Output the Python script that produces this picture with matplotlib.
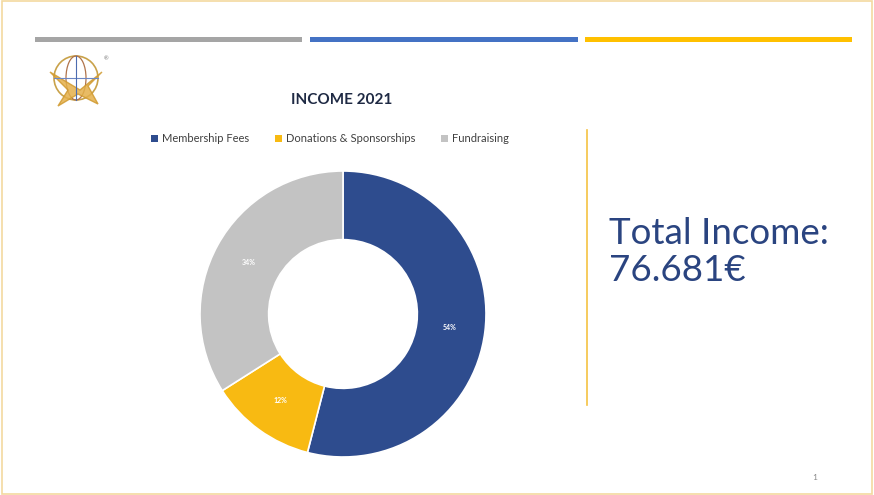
import matplotlib
matplotlib.use("Agg")
import matplotlib.pyplot as plt
from matplotlib.patches import Rectangle, Ellipse, Polygon
from matplotlib.lines import Line2D

plt.rcParams['font.family'] = ['Lato', 'DejaVu Sans']

categories = ["Membership Fees", "Donations & Sponsorships", "Fundraising"]
values = [54, 12, 34]
colors = ["#2E4C8E", "#F8BA12", "#C3C3C3"]
title = "INCOME 2021"
total_text = "Total Income:\n76.681€"

W, H = 874, 495
fig = plt.figure(figsize=(W / 100, H / 100), dpi=100)
fig.patch.set_facecolor("white")

def fx(x): return x / W
def fy(y): return 1 - y / H

# outer frame
fig.add_artist(Rectangle((0.002, 0.002), 0.996, 0.996, transform=fig.transFigure,
                         fill=False, edgecolor="#F3D9A0", linewidth=1.2))

# top bars
for x0, x1, c in [(35, 302, "#A5A5A5"), (310, 578, "#4472C4"), (585, 852, "#FFC000")]:
    fig.add_artist(Rectangle((fx(x0), fy(42)), fx(x1) - fx(x0), 5 / H,
                             transform=fig.transFigure, color=c, linewidth=0))

# vertical separator
fig.add_artist(Line2D([fx(587), fx(587)], [fy(130), fy(405)], transform=fig.transFigure,
                      color="#F5C242", linewidth=1.2))

# simple logo
lax = fig.add_axes([fx(40), fy(112), 75 / W, 62 / H])
lax.set_xlim(0, 75); lax.set_ylim(0, 62); lax.axis("off")
lax.add_patch(Ellipse((36, 34), 44, 44, fill=False, edgecolor="#C9A24A", linewidth=1.2))
lax.add_patch(Ellipse((36, 34), 20, 44, fill=False, edgecolor="#B0734A", linewidth=0.9))
lax.plot([14, 58], [34, 34], color="#6C86C4", linewidth=0.8)
lax.plot([36, 36], [12, 56], color="#4C6CB0", linewidth=0.8)
lax.add_patch(Polygon([[10, 40], [40, 22], [62, 40], [48, 26], [58, 8], [38, 18], [18, 6], [28, 22]],
                      closed=True, facecolor="#E4B04A", edgecolor="#D09A30", alpha=0.85))
lax.text(64, 52, "®", fontsize=4, color="#777777")

# title
fig.text(fx(342), fy(100), title, ha="center", va="center", fontsize=11,
         fontweight="bold", color="#1F2A44")

# donut
cx, cy, r = 343, 314, 143
ax = fig.add_axes([fx(cx - r), fy(cy + r), 2 * r / W, 2 * r / H])
wedges, texts, autotexts = ax.pie(
    values, colors=colors, startangle=90, counterclock=False,
    autopct="%1.0f%%", pctdistance=0.75, radius=1,
    wedgeprops=dict(width=0.48, edgecolor="white", linewidth=1.2),
    textprops=dict(color="white", fontsize=5, fontweight="bold"))
ax.set_xlim(-1, 1); ax.set_ylim(-1, 1); ax.set_aspect("equal")
ax.axis("off")

# legend
handles = [Rectangle((0, 0), 1, 1, facecolor=c, edgecolor="none") for c in colors]
fig.legend(handles, categories, loc="center", bbox_to_anchor=(fx(330), fy(139)),
           ncol=3, frameon=False, fontsize=8, handlelength=0.6, handleheight=0.6,
           handletextpad=0.4, columnspacing=2.3, labelcolor="#404040")

# total income text
fig.text(fx(609), fy(252), total_text, ha="left", va="center", fontsize=26.5,
         color="#2A4480", linespacing=1.15)

# page number
fig.text(fx(815), fy(478), "1", ha="center", va="center", fontsize=6, color="#888888")

fig.savefig("out.png", dpi=100, facecolor="white")
